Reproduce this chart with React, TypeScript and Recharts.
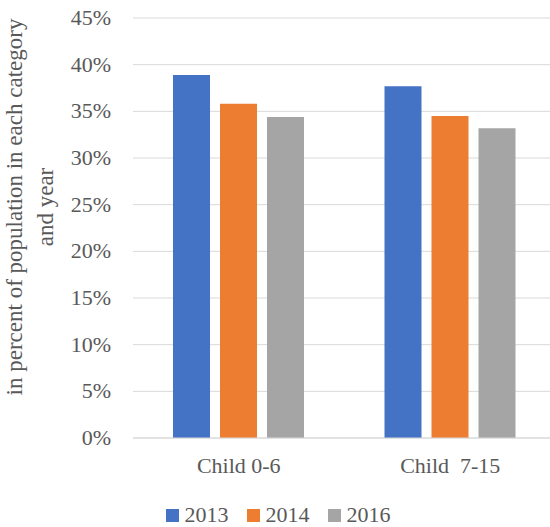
import { BarChart, Bar, XAxis, YAxis, CartesianGrid, Legend } from 'recharts';

const categories = ['Child 0-6', 'Child  7-15'];
const values2013 = [38.9, 37.7];
const values2014 = [35.8, 34.5];
const values2016 = [34.4, 33.2];
const yTicks = [0, 5, 10, 15, 20, 25, 30, 35, 40, 45];

const SERIES = [
    { key: '2013', color: '#4472C4' },
    { key: '2014', color: '#ED7D31' },
    { key: '2016', color: '#A5A5A5' },
];

const FONT = '"Liberation Serif", serif';
const TEXT = '#595959';

const data = categories.map((name, i) => ({
    name,
    '2013': values2013[i],
    '2014': values2014[i],
    '2016': values2016[i],
}));

function XTick({ x, y, payload }: any) {
    return (
        <text x={x} y={y} dy={27} textAnchor="middle" fill={TEXT} fontSize={22} fontFamily={FONT} style={{ whiteSpace: 'pre' }}>
            {payload.value}
        </text>
    );
}

function YTick({ x, y, payload }: any) {
    return (
        <text x={x} y={y} dy={7} textAnchor="end" fill={TEXT} fontSize={22} fontFamily={FONT}>
            {`${payload.value}%`}
        </text>
    );
}

function YLabel({ viewBox }: any) {
    const cx = viewBox.x + 22;
    const cy = viewBox.y + viewBox.height / 2 - 21;
    return (
        <text transform={`rotate(-90, ${cx}, ${cy})`} x={cx} y={cy} textAnchor="middle" fill={TEXT} fontSize={23} fontFamily={FONT}>
            <tspan x={cx} dy={0}>in percent of population in each category</tspan>
            <tspan x={cx} dy={31}>and year</tspan>
        </text>
    );
}

function LegendContent() {
    return (
        <div style={{ display: 'flex', justifyContent: 'center', alignItems: 'center', gap: 18, height: 24, fontFamily: FONT, fontSize: 22, color: TEXT }}>
            {SERIES.map((s) => (
                <div key={s.key} style={{ display: 'flex', alignItems: 'center' }}>
                    <div style={{ width: 13, height: 13, background: s.color, marginRight: 6 }} />
                    <span style={{ lineHeight: '24px', fontFamily: FONT }}>{s.key}</span>
                </div>
            ))}
        </div>
    );
}

export default function App() {
    return (
        <div style={{ position: 'absolute', left: 0, top: 0, width: 550, height: 527, overflow: 'hidden', background: '#fff', fontFamily: FONT }}>
            <BarChart
                width={556}
                height={527}
                data={data}
                margin={{ top: 18, right: 0, left: 0, bottom: 0 }}
                barSize={37}
                barGap={10}
            >
                <CartesianGrid vertical={false} stroke="#d9d9d9" strokeWidth={1} />
                <XAxis
                    dataKey="name"
                    height={65}
                    axisLine={{ stroke: '#d9d9d9' }}
                    tickLine={false}
                    tick={<XTick />}
                    interval={0}
                />
                <YAxis
                    width={133}
                    domain={[0, 45]}
                    ticks={yTicks}
                    interval={0}
                    axisLine={false}
                    tickLine={false}
                    tickSize={0}
                    tickMargin={22}
                    tick={<YTick />}
                    label={{ content: <YLabel /> }}
                />
                <Legend verticalAlign="bottom" content={<LegendContent />} />
                {SERIES.map((s) => (
                    <Bar key={s.key} dataKey={s.key} fill={s.color} isAnimationActive={false} />
                ))}
            </BarChart>
        </div>
    );
}
